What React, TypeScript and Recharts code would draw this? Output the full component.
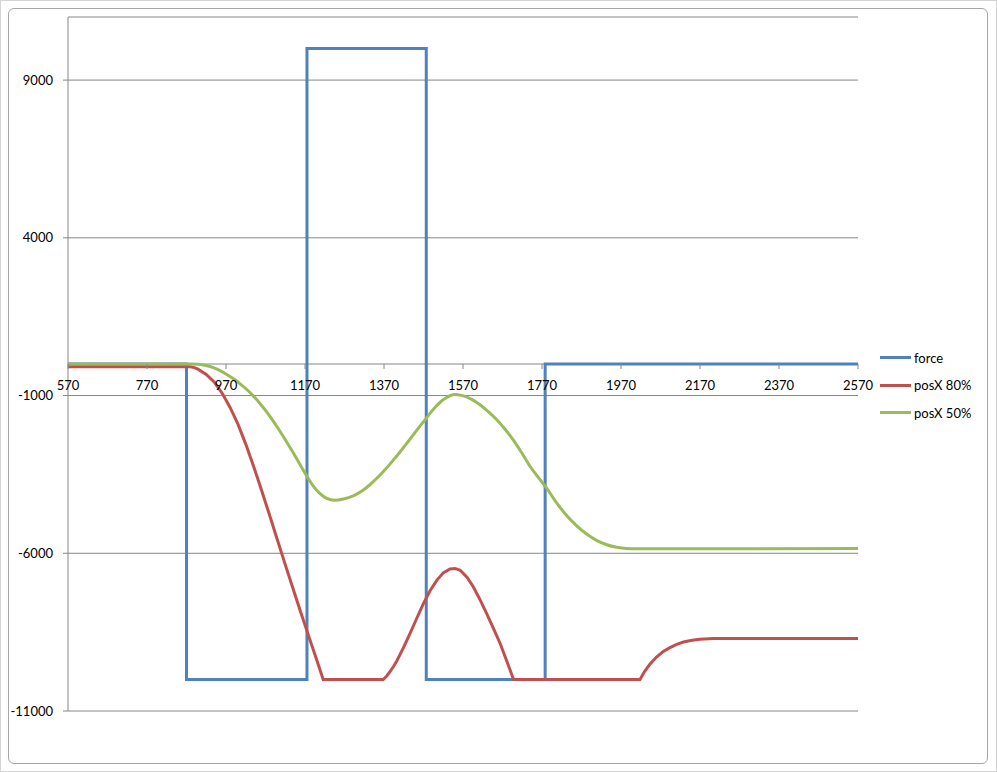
import React from 'react';
import { LineChart, Line, XAxis, YAxis, CartesianGrid, ReferenceLine, Legend } from 'recharts';

const X_TICKS = [570, 770, 970, 1170, 1370, 1570, 1770, 1970, 2170, 2370, 2570];
const Y_TICKS = [-11000, -6000, -1000, 4000, 9000];
const Y_MIN = -11000;
const Y_MAX = 11000;

const forceX = [570, 870, 870, 1175, 1175, 1477, 1477, 1778, 1778, 2570];
const forceY = [0, 0, -10000, -10000, 10000, 10000, -10000, -10000, 0, 0];

const pos80X = [570, 880, 890, 900, 920, 940, 960, 980, 1000, 1020, 1040, 1060, 1080, 1100, 1120, 1140, 1160, 1180, 1200, 1216,
  1368, 1377, 1385, 1394, 1402, 1419, 1436, 1453, 1470, 1487, 1504, 1520, 1537, 1550, 1563, 1580, 1596, 1613, 1630, 1647, 1664, 1681, 1698,
  2018, 2030, 2043, 2060, 2077, 2094, 2111, 2128, 2150, 2170, 2204, 2250, 2570];
const pos80Y = [-90, -90, -115, -170, -330, -570, -920, -1370, -1900, -2540, -3250, -4000, -4780, -5570, -6360, -7130, -7900, -8650, -9390, -10000,
  -10000, -9890, -9750, -9590, -9420, -9000, -8540, -8060, -7590, -7180, -6850, -6620, -6500, -6480, -6540, -6760, -7060, -7470, -7910, -8380, -8860, -9420, -10000,
  -10000, -9740, -9520, -9290, -9110, -8990, -8890, -8815, -8760, -8725, -8705, -8700, -8700];

const pos50X = [570, 880, 900, 920, 938, 955, 972, 989, 1005, 1022, 1039, 1056, 1073, 1090, 1107, 1124, 1141, 1157, 1174, 1191, 1208, 1225, 1245,
  1267, 1292, 1315, 1335, 1360, 1377, 1394, 1411, 1428, 1445, 1461, 1477, 1490, 1502, 1515, 1528, 1540, 1548, 1557, 1571, 1592, 1613, 1634, 1655,
  1676, 1698, 1719, 1740, 1761, 1782, 1807, 1833, 1858, 1883, 1908, 1934, 1959, 1984, 2010, 2570];
const pos50Y = [0, 0, -10, -50, -115, -210, -330, -470, -620, -800, -1010, -1250, -1520, -1820, -2140, -2480, -2830, -3180, -3540, -3870, -4110, -4260, -4322,
  -4280, -4180, -4020, -3820, -3520, -3290, -3040, -2780, -2510, -2230, -1970, -1720, -1510, -1340, -1180, -1070, -990, -970, -975, -1010, -1120, -1290, -1510, -1760,
  -2060, -2420, -2820, -3250, -3600, -3940, -4400, -4810, -5130, -5390, -5590, -5730, -5810, -5850, -5860, -5850];

const SERIES_NAMES = ['force', 'posX 80%', 'posX 50%'];
const COLORS = ['#4F81BD', '#C0504D', '#9BBB59'];

const toPoints = (xs: number[], ys: number[]) => xs.map((x, i) => ({ x, y: ys[i] }));
const forceData = toPoints(forceX, forceY);
const pos80Data = toPoints(pos80X, pos80Y);
const pos50Data = toPoints(pos50X, pos50Y);

const W = 997;
const H = 772;
const X_AXIS_H = 30;
const MARGIN = { top: 17, right: 139, bottom: 61 - X_AXIS_H, left: 8 };
const PLOT_H = H - MARGIN.top - MARGIN.bottom - X_AXIS_H;
const FONT = 'Lato, "Liberation Sans", sans-serif';
const AXIS_COLOR = '#868686';

const XTick = (props: any) => {
  const { x, y, payload } = props;
  const zeroY = y - (PLOT_H * (0 - Y_MIN)) / (Y_MAX - Y_MIN);
  return (
    <g>
      <line x1={x} x2={x} y1={zeroY} y2={zeroY + 5} stroke={AXIS_COLOR} strokeWidth={1} />
      <text x={x} y={zeroY + 26} textAnchor="middle" fontSize={13} fontFamily={FONT} fill="#000">
        {payload.value}
      </text>
    </g>
  );
};

const renderLegend = () => (
  <div style={{ fontFamily: FONT, fontSize: 13, color: '#000' }}>
    {SERIES_NAMES.map((name, i) => (
      <div key={name} style={{ display: 'flex', alignItems: 'center', height: 27.5 }}>
        <div style={{ width: 31, height: 3, background: COLORS[i], marginRight: 3 }} />
        <span>{name}</span>
      </div>
    ))}
  </div>
);

export default function App() {
  return (
    <div style={{ position: 'absolute', left: 0, top: 0, width: W, height: H, background: '#ffffff', overflow: 'hidden' }}>
      <div style={{ position: 'absolute', left: 0, top: 0, width: W - 2, height: H - 2, border: '1px solid #d4d4d4' }} />
      <div style={{ position: 'absolute', left: 8, top: 8, width: W - 19, height: H - 18, border: '1px solid #a6a6a6', borderRadius: 6, background: '#fff' }} />
      <div style={{ position: 'absolute', left: 0, top: 0 }}>
        <LineChart width={W} height={H} margin={MARGIN}>
          <CartesianGrid vertical={false} stroke={AXIS_COLOR} strokeWidth={1} />
          <XAxis
            type="number"
            dataKey="x"
            domain={[570, 2570]}
            ticks={X_TICKS}
            allowDataOverflow
            axisLine={false}
            tickLine={false}
            tickSize={0}
            tickMargin={0}
            height={X_AXIS_H}
            tick={<XTick />}
            interval={0}
          />
          <YAxis
            type="number"
            domain={[Y_MIN, Y_MAX]}
            ticks={Y_TICKS}
            allowDataOverflow
            width={60}
            axisLine={{ stroke: AXIS_COLOR }}
            tickLine={{ stroke: AXIS_COLOR }}
            tickSize={5}
            tickMargin={10}
            interval={0}
            tick={{ fontSize: 13, fontFamily: FONT, fill: '#000' }}
          />
          <ReferenceLine y={0} stroke={AXIS_COLOR} strokeWidth={1} />
          <Line data={forceData} dataKey="y" name={SERIES_NAMES[0]} type="linear" stroke={COLORS[0]} strokeWidth={3} dot={false} isAnimationActive={false} />
          <Line data={pos80Data} dataKey="y" name={SERIES_NAMES[1]} type="linear" stroke={COLORS[1]} strokeWidth={3} dot={false} isAnimationActive={false} />
          <Line data={pos50Data} dataKey="y" name={SERIES_NAMES[2]} type="monotone" stroke={COLORS[2]} strokeWidth={3} dot={false} isAnimationActive={false} />
          <Legend
            layout="vertical"
            align="center"
            verticalAlign="middle"
            content={renderLegend}
            wrapperStyle={{ left: 880, top: 344, width: 110 }}
          />
        </LineChart>
      </div>
    </div>
  );
}
